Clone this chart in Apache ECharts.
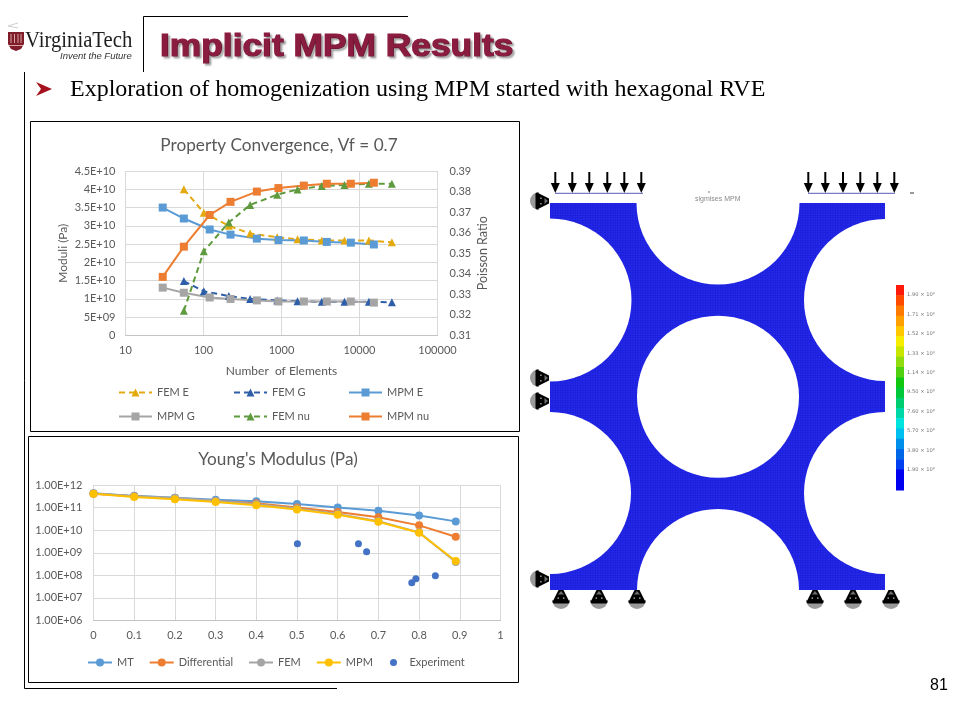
<!DOCTYPE html>
<html>
<head>
<meta charset="utf-8">
<style>html,body{margin:0;padding:0;background:#fff}#c{width:960px;height:720px}</style>
<script src="https://cdn.jsdelivr.net/npm/echarts@6/dist/echarts.min.js"></script>
</head>
<body>
<div id="c"></div>
<script>
// ---- Property Convergence data ----
const femElements = [56, 101, 211, 396, 880, 1603, 3290, 6424, 13180, 26000];
const mpmElements = [30, 56, 120, 222, 483, 914, 1933, 3810, 7740, 15280];
const femE = [4.0e10, 3.36e10, 3.0e10, 2.79e10, 2.69e10, 2.63e10, 2.6e10, 2.6e10, 2.6e10, 2.55e10];
const femG = [1.49e10, 1.21e10, 1.08e10, 1.0e10, 0.96e10, 0.94e10, 0.92e10, 0.92e10, 0.92e10, 0.91e10];
const mpmE = [3.5e10, 3.2e10, 2.9e10, 2.76e10, 2.65e10, 2.61e10, 2.6e10, 2.56e10, 2.54e10, 2.49e10];
const mpmG = [1.31e10, 1.17e10, 1.04e10, 1.0e10, 0.96e10, 0.93e10, 0.93e10, 0.93e10, 0.93e10, 0.90e10];
const femNu = [0.322, 0.351, 0.365, 0.3735, 0.3785, 0.381, 0.3827, 0.3832, 0.3838, 0.3838];
const mpmNu = [0.3385, 0.3532, 0.3686, 0.375, 0.38, 0.3817, 0.3829, 0.3838, 0.3838, 0.3843];
const moduliTicks = ['0','5E+09','1E+10','1.5E+10','2E+10','2.5E+10','3E+10','3.5E+10','4E+10','4.5E+10'];

// ---- Young's Modulus data ----
const volumeFractions = [0, 0.1, 0.2, 0.3, 0.4, 0.5, 0.6, 0.7, 0.8, 0.89];
const mtValues = [4.3e11, 3.3e11, 2.75e11, 2.2e11, 1.9e11, 1.44e11, 1.02e11, 7.3e10, 4.5e10, 2.45e10];
const differentialValues = [4.13e11, 3.15e11, 2.48e11, 1.95e11, 1.54e11, 1.02e11, 6.35e10, 3.7e10, 1.63e10, 5.1e9];
const femValues = [4.2e11, 3.2e11, 2.7e11, 2.0e11, 1.4e11, 9.0e10, 5.2e10, 2.5e10, 8.0e9, 3.9e8];
const mpmValues = [4.13e11, 2.94e11, 2.32e11, 1.76e11, 1.26e11, 8.3e10, 4.84e10, 2.37e10, 7.7e9, 4.3e8];
const experimentX = [0.501, 0.651, 0.671, 0.782, 0.792, 0.84];
const experimentY = [2.5e9, 2.5e9, 1.1e9, 4.7e7, 7.1e7, 9.6e7];

// ---- Colour bar ----
const colorBarLabels = ['1.90 × 10⁹','1.71 × 10⁹','1.52 × 10⁹','1.33 × 10⁹','1.14 × 10⁹','9.50 × 10⁸','7.60 × 10⁸','5.70 × 10⁸','3.80 × 10⁸','1.90 × 10⁸'];
const colorBarBands = ['#ff1a0a','#ff4a00','#ff7a00','#ffa000','#ffc800','#f5ee00','#c8e600','#90dc10','#50d010','#10c810','#00c83a','#00cc70','#00d8a8','#00e4e0','#00c0f0','#0090ec','#0068e8','#0040f0','#0000f0','#0000f0'];

const FONT = 'Lato';
const GREY = '#595959';
const pair = (xs, ys) => xs.map((x, i) => [x, ys[i]]);

function lineSeries(name, xs, ys, color, symbol, dashed, xAxisIndex, yAxisIndex) {
  return {
    name, type: 'line', data: pair(xs, ys), xAxisIndex, yAxisIndex,
    symbol, symbolSize: 8, showSymbol: true,
    lineStyle: {color, width: 2, type: dashed ? [6, 4] : 'solid'},
    itemStyle: {color}, animation: false, clip: false
  };
}

const textLegend = {color: GREY, fontSize: 11, fontFamily: FONT};

const option = {
  backgroundColor: '#fff',
  animation: false,
  title: [
    {text: 'Property Convergence, Vf = 0.7', left: 274, top: 132, textAlign: 'center',
     textStyle: {color: GREY, fontSize: 17.2, fontWeight: 'normal', fontFamily: FONT}},
    {text: "Young's Modulus (Pa)", left: 273, top: 446, textAlign: 'center',
     textStyle: {color: GREY, fontSize: 17.2, fontWeight: 'normal', fontFamily: FONT}}
  ],
  grid: [
    {left: 125.5, top: 171, width: 312, height: 164.5, containLabel: false},
    {left: 93.5, top: 485, width: 407, height: 135.5, containLabel: false}
  ],
  xAxis: [
    {type: 'log', logBase: 10, min: 10, max: 100000, gridIndex: 0,
     name: 'Number  of Elements', nameLocation: 'middle', nameGap: 30,
     nameTextStyle: {color: GREY, fontSize: 12, fontFamily: FONT},
     axisLine: {show: true, lineStyle: {color: '#c4c4c4'}}, axisTick: {show: false},
     axisLabel: {color: GREY, fontSize: 11, fontFamily: FONT, margin: 9, hideOverlap: false,
                 formatter: v => String(Math.round(v))},
     minorTick: {show: false}, minorSplitLine: {show: false},
     splitLine: {show: true, lineStyle: {color: '#d9d9d9'}}},
    {type: 'value', min: 0, max: 1, interval: 0.1, gridIndex: 1,
     axisLine: {show: true, lineStyle: {color: '#c4c4c4'}}, axisTick: {show: false},
     axisLabel: {color: GREY, fontSize: 11, fontFamily: FONT, margin: 9,
                 formatter: v => String(+v.toFixed(1))},
     splitLine: {show: true, lineStyle: {color: '#d9d9d9'}}}
  ],
  yAxis: [
    {type: 'value', min: 0, max: 4.5e10, interval: 5e9, gridIndex: 0,
     name: 'Moduli (Pa)', nameLocation: 'middle', nameGap: 56, nameRotate: 90,
     nameTextStyle: {color: GREY, fontSize: 12, fontFamily: FONT},
     axisLine: {show: false}, axisTick: {show: false},
     axisLabel: {color: GREY, fontSize: 11, fontFamily: FONT, margin: 10,
                 formatter: (v, i) => moduliTicks[Math.round(v / 5e9)]},
     splitLine: {show: true, lineStyle: {color: '#d9d9d9'}}},
    {type: 'value', min: 0.31, max: 0.39, interval: 0.01, gridIndex: 0, position: 'right',
     name: 'Poisson Ratio', nameLocation: 'middle', nameGap: 39, nameRotate: 90,
     nameTextStyle: {color: GREY, fontSize: 12.5, fontFamily: FONT},
     axisLine: {show: false}, axisTick: {show: false},
     axisLabel: {color: GREY, fontSize: 11, fontFamily: FONT, margin: 12,
                 formatter: v => v.toFixed(2)},
     splitLine: {show: false}},
    {type: 'log', logBase: 10, min: 1e6, max: 1e12, gridIndex: 1,
     axisLine: {show: false}, axisTick: {show: false},
     axisLabel: {color: GREY, fontSize: 11, fontFamily: FONT, margin: 11,
                 formatter: v => '1.00E+' + String(Math.round(Math.log10(v))).padStart(2, '0')},
     minorTick: {show: false}, minorSplitLine: {show: false},
     splitLine: {show: true, lineStyle: {color: '#d9d9d9'}}}
  ],
  legend: [
    {data: ['FEM E', 'MPM G'], orient: 'vertical', left: 118, top: 387, padding: 0, itemWidth: 33, itemHeight: 10, itemGap: 13, textStyle: textLegend},
    {data: ['FEM G', 'FEM nu'], orient: 'vertical', left: 233, top: 387, padding: 0, itemWidth: 33, itemHeight: 10, itemGap: 13, textStyle: textLegend},
    {data: ['MPM E', 'MPM nu'], orient: 'vertical', left: 348, top: 387, padding: 0, itemWidth: 33, itemHeight: 10, itemGap: 13, textStyle: textLegend},
    {data: ['MT', 'Differential', 'FEM', 'MPM'], orient: 'horizontal', left: 87, top: 657, padding: 0, itemWidth: 24, itemHeight: 10, itemGap: 15, textStyle: textLegend},
    {data: ['Experiment'], orient: 'horizontal', left: 390, top: 657, padding: 0, itemWidth: 22, itemHeight: 7, textStyle: textLegend}
  ],
  series: [
    lineSeries('FEM E', femElements, femE, '#e3a90f', 'triangle', true, 0, 0),
    lineSeries('FEM G', femElements, femG, '#2f5ea8', 'triangle', true, 0, 0),
    lineSeries('MPM E', mpmElements, mpmE, '#5b9bd5', 'rect', false, 0, 0),
    lineSeries('MPM G', mpmElements, mpmG, '#a5a5a5', 'rect', false, 0, 0),
    lineSeries('FEM nu', femElements, femNu, '#5f9a3e', 'triangle', true, 0, 1),
    lineSeries('MPM nu', mpmElements, mpmNu, '#ed7d31', 'rect', false, 0, 1),
    lineSeries('MT', volumeFractions, mtValues, '#5b9bd5', 'circle', false, 1, 2),
    lineSeries('Differential', volumeFractions, differentialValues, '#ed7d31', 'circle', false, 1, 2),
    lineSeries('FEM', volumeFractions, femValues, '#a5a5a5', 'circle', false, 1, 2),
    lineSeries('MPM', volumeFractions, mpmValues, '#ffc000', 'circle', false, 1, 2),
    {name: 'Experiment', type: 'scatter', data: pair(experimentX, experimentY), xAxisIndex: 1, yAxisIndex: 2,
     symbol: 'circle', symbolSize: 7, itemStyle: {color: '#4472c4', opacity: 1}}
  ],
  graphic: {elements: buildSlide()}
};

function line(x1, y1, x2, y2, stroke, lineWidth) {
  return {type: 'line', silent: true, shape: {x1, y1, x2, y2}, style: {stroke: stroke || '#000', lineWidth: lineWidth || 1}};
}
function poly(points, fill) {
  return {type: 'polygon', silent: true, shape: {points}, style: {fill}};
}
function txt(text, x, y, style, extra) {
  return Object.assign({type: 'text', silent: true, x, y,
    style: Object.assign({text, verticalAlign: 'middle', align: 'left'}, style)}, extra || {});
}
function frame(x, y, w, h) {
  return {type: 'rect', silent: true, z: -1, shape: {x, y, width: w, height: h}, style: {fill: '#fff', stroke: '#000', lineWidth: 1}};
}
function halfHole(cx, cy, r, startAngle, endAngle) {
  return {type: 'sector', silent: true, z: 3, shape: {cx, cy, r, r0: 0, startAngle, endAngle}, style: {fill: '#fff'}};
}
function support(x, y, rotation) {
  return {type: 'group', silent: true, x, y, rotation, z: 5, children: [
    {type: 'sector', shape: {cx: 0, cy: 1, r: 9, r0: 0, startAngle: 0, endAngle: Math.PI}, style: {fill: '#9a9a9a'}},
    poly([[-2.5, -9], [2.5, -9], [7.5, 1], [-7.5, 1]], '#000'),
    {type: 'rect', shape: {x: -8.5, y: 1, width: 17, height: 3.5, r: 1.7}, style: {fill: '#000'}},
    poly([[0, -8], [3, -4.5], [-3, -4.5]], '#6e6e6e'),
    {type: 'rect', shape: {x: -3.5, y: -1.5, width: 1.5, height: 1.2}, style: {fill: '#bbb'}},
    {type: 'rect', shape: {x: 2, y: -1.5, width: 1.5, height: 1.2}, style: {fill: '#bbb'}}
  ]};
}
function arrow(x) {
  return {type: 'group', silent: true, z: 5, children: [
    line(x, 172, x, 186, '#000', 2),
    poly([[x - 4.5, 183], [x + 4.5, 183], [x, 193]], '#000')
  ]};
}
function meshPattern() {
  const c = document.createElement('canvas');
  c.width = 5; c.height = 5;
  const g = c.getContext('2d');
  g.fillStyle = '#2429ea'; g.fillRect(0, 0, 5, 5);
  g.fillStyle = '#1c1fd6';
  g.fillRect(0, 0, 5, 0.6); g.fillRect(0, 2.5, 5, 0.6);
  g.fillRect(0, 0, 0.6, 5); g.fillRect(2.5, 0, 0.6, 5);
  return {image: c, repeat: 'repeat'};
}

function buildSlide() {
  const els = [];
  const maroon = '#8a1c40';
  // chart frames
  els.push(frame(30.5, 121.5, 489, 310));
  els.push(frame(28.5, 436.5, 490, 246));
  // slide rules
  els.push(line(143.5, 16.5, 408, 16.5), line(143.5, 16.5, 143.5, 72));
  els.push(line(24.5, 72, 24.5, 688.5), line(24.5, 688.5, 337, 688.5));
  // logo
  els.push(poly([[8, 32], [24, 32], [24, 44], [21, 49], [16, 51], [11, 49], [8, 44]], '#7f1d2a'));
  [11, 14.5, 18, 21].forEach(x => els.push(line(x, 34, x, 43, '#d9a7a0', 1)));
  els.push(line(9, 45.5, 23, 45.5, '#d9a7a0', 1));
  els.push(line(18, 23, 8, 26, '#cfcfcf', 1), line(8, 26, 18, 28, '#cfcfcf', 1));
  els.push(txt('VirginiaTech', 25, 41, {fontFamily: 'Liberation Serif', fontSize: 23, fill: '#1d1d1d'}, {scaleX: 0.9}));
  els.push(txt('Invent the Future', 60, 56, {fontFamily: 'Liberation Sans', fontSize: 9.5, fontStyle: 'italic', fill: '#333'}));
  // heading
  els.push(txt('Implicit MPM Results', 160, 47, {fontFamily: 'Liberation Sans', fontWeight: 'bold', fontSize: 31, fill: maroon,
    stroke: maroon, lineWidth: 1.2, textShadowColor: 'rgba(0,0,0,0.3)', textShadowBlur: 2, textShadowOffsetX: 2, textShadowOffsetY: 2}, {scaleX: 1.14}));
  // bullet
  els.push(poly([[36, 82], [52, 89], [36, 96], [41, 89]], '#a5121d'));
  els.push(txt('Exploration of homogenization using MPM started with hexagonal RVE', 70, 90, {fontFamily: 'Liberation Serif', fontSize: 24, fill: '#000'}));
  // page number
  els.push(txt('81', 930, 686, {fontFamily: 'Liberation Sans', fontSize: 16, fill: '#000'}));
  // RVE mesh
  els.push({type: 'rect', silent: true, z: 2, shape: {x: 550, y: 203, width: 335, height: 387}, style: {fill: meshPattern()}});
  const h = Math.PI / 2, p = Math.PI;
  els.push(halfHole(718, 203, 81.5, 0, p));            // top, lower half
  els.push(halfHole(718, 590, 81, p, 2 * p));          // bottom, upper half
  els.push(halfHole(550, 300, 81.5, -h, h));           // left upper
  els.push(halfHole(550, 493, 81, -h, h));             // left lower
  els.push(halfHole(885, 300, 81, h, h + p));          // right upper
  els.push(halfHole(885, 493, 81, h, h + p));          // right lower
  els.push({type: 'circle', silent: true, z: 3, shape: {cx: 718, cy: 396.7, r: 81}, style: {fill: '#fff'}});
  // load arrows and load lines
  [555.3, 572.3, 589.3, 607.3, 624.3, 641.3, 808.3, 825.3, 843, 860.3, 877.3, 894.3].forEach(x => els.push(arrow(x)));
  els.push(line(555, 193.3, 643, 193.3, '#5a5ab8', 1), line(808, 193.3, 895, 193.3, '#5a5ab8', 1));
  // supports
  [201, 378, 401, 579].forEach(y => els.push(support(540, y, -h)));
  [561, 599, 637, 815, 853, 891].forEach(x => els.push(support(x, 599, 0)));
  // captions
  els.push(txt('sigmises MPM', 695, 199, {fontFamily: 'Liberation Sans', fontSize: 7, fill: '#8a8a8a'}, {z: 6}));
  els.push(line(708, 192, 710, 192, '#777', 1), line(910, 193, 914, 193, '#333', 1));
  // colour bar
  const bandH = 205 / colorBarBands.length;
  colorBarBands.forEach((c, i) => els.push({type: 'rect', silent: true, z: 2,
    shape: {x: 896, y: 285 + i * bandH, width: 8, height: bandH + 0.5}, style: {fill: c}}));
  colorBarLabels.forEach((t, i) => els.push(txt(t, 907, 295 + i * 19.4, {fontFamily: 'DejaVu Sans', fontSize: 5.2, fill: '#777'})));
  return els;
}

const chart = echarts.init(document.getElementById('c'), null, {renderer: 'canvas', width: 960, height: 720});
chart.setOption(option);
</script>
</body>
</html>
